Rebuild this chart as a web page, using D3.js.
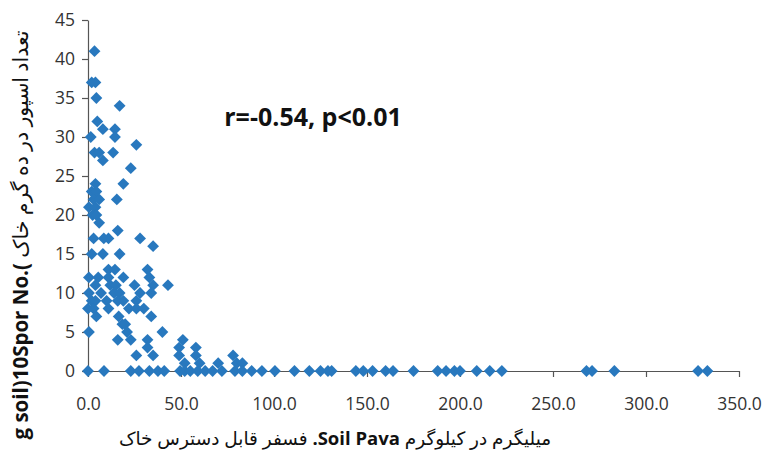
<!DOCTYPE html>
<html>
<head>
<meta charset="utf-8">
<script src="https://cdn.jsdelivr.net/npm/d3@7"></script>
<style>
body { margin: 0; background: #fff; }
text { font-family: "Open Sans", "DejaVu Sans", sans-serif; }
</style>
</head>
<body>
<svg id="chart" width="765" height="450"></svg>
<script>
// available soil P (mg/kg) and spore count per 10 g soil
var soilPava = [3.5, 2, 4, 4.5, 17, 5, 8, 14.5, 1.5, 14.5, 26, 3.5, 6, 13.5, 8, 23, 4, 19, 2, 4.5,
  3, 6, 15.5, 0.5, 4, 2.5, 4.5, 6, 16, 3, 8.5, 11, 28, 35, 2, 8, 17, 11, 14.5, 32,
  0.5, 5.5, 11, 19, 33, 4, 12, 15, 25, 35, 43, 0.5, 7, 14, 17, 28, 34, 2, 4, 10, 16, 19, 26,
  0, 3, 11, 22, 26, 30, 4.5, 16.5, 34, 18.5, 20, 0.5, 21, 40, 16, 23, 32, 51, 32, 49, 58,
  26, 35, 49, 58, 78, 52, 60, 70, 80, 83,
  0, 8.6, 23, 27.4, 33, 37.6, 41, 49.5, 52, 55, 59, 63, 67, 72, 79, 83, 88, 93.5, 100.5, 111,
  119, 125, 129, 131, 144, 148, 153, 160, 164, 175, 188, 192.5, 197, 200, 209, 216, 222.5,
  268, 271, 283, 328, 333];
var sporCount = [41, 37, 37, 35, 34, 32, 31, 31, 30, 30, 29, 28, 28, 28, 27, 26, 24, 24, 23, 23,
  22, 22, 22, 21, 21, 20, 20, 19, 18, 17, 17, 17, 17, 16, 15, 15, 15, 13, 13, 13,
  12, 12, 12, 12, 12, 11, 11, 11, 11, 11, 11, 10, 10, 10, 10, 10, 10, 9, 9, 9, 9, 9, 9,
  8, 8, 8, 8, 8, 8, 7, 7, 7, 6, 6, 5, 5, 5, 4, 4, 4, 4, 3, 3, 3,
  2, 2, 2, 2, 2, 1, 1, 1, 1, 1,
  0, 0, 0, 0, 0, 0, 0, 0, 0, 0, 0, 0, 0, 0, 0, 0, 0, 0, 0, 0,
  0, 0, 0, 0, 0, 0, 0, 0, 0, 0, 0, 0, 0, 0, 0, 0, 0,
  0, 0, 0, 0, 0];
var xTicks = [0, 50, 100, 150, 200, 250, 300, 350];
var yTicks = [0, 5, 10, 15, 20, 25, 30, 35, 40, 45];
var statText = "r=-0.54, p<0.01";

var points = soilPava.map(function(v, i) { return {x: v, y: sporCount[i]}; });

var svg = d3.select("#chart");
var x = d3.scaleLinear().domain([0, 350]).range([88, 739]);
var y = d3.scaleLinear().domain([0, 45]).range([371, 20]);

var xAxis = svg.append("g").attr("transform", "translate(0," + y(0) + ")")
  .call(d3.axisBottom(x).tickValues(xTicks).tickFormat(d3.format(".1f")).tickSize(6).tickPadding(21).tickSizeOuter(0));
var yAxis = svg.append("g").attr("transform", "translate(" + x(0) + ",0)")
  .call(d3.axisLeft(y).tickValues(yTicks).tickSize(6).tickPadding(7).tickSizeOuter(0));

[xAxis, yAxis].forEach(function(g) {
  g.select(".domain").attr("stroke", "#555").attr("stroke-width", 1.2);
  g.selectAll(".tick line").attr("stroke", "#555").attr("stroke-width", 1.2);
  g.selectAll(".tick text").attr("fill", "#333").style("font-size", "17.5px");
});

var diamond = d3.symbol().type(d3.symbolSquare).size(70);
svg.append("g").selectAll("path").data(points).enter().append("path")
  .attr("d", diamond)
  .attr("fill", "#2878BE")
  .attr("transform", function(d) { return "translate(" + x(d.x) + "," + y(d.y) + ") rotate(45)"; });

svg.append("text").attr("x", 313).attr("y", 126).attr("text-anchor", "middle")
  .style("font-size", "25px").style("font-weight", "bold").attr("fill", "#111")
  .text(statText);

// axis titles (mixed Persian / English)
var xt = svg.append("text").attr("x", 335).attr("y", 445).attr("text-anchor", "middle")
  .attr("direction", "ltr").style("font-size", "18.5px").attr("fill", "#111");
xt.append("tspan").text("فسفر قابل دسترس خاک ");
xt.append("tspan").style("font-weight", "bold").text(" .Soil Pava ");
xt.append("tspan").text(" میلیگرم در کیلوگرم");

var yt = svg.append("text").attr("transform", "translate(28,235) rotate(-90)").attr("text-anchor", "middle")
  .attr("direction", "ltr").style("font-size", "20.5px").attr("fill", "#111");
yt.append("tspan").style("font-weight", "bold").text("g soil)10Spor No.(");
yt.append("tspan").text(" تعداد اسپور در ده گرم خاک");
</script>
</body>
</html>
